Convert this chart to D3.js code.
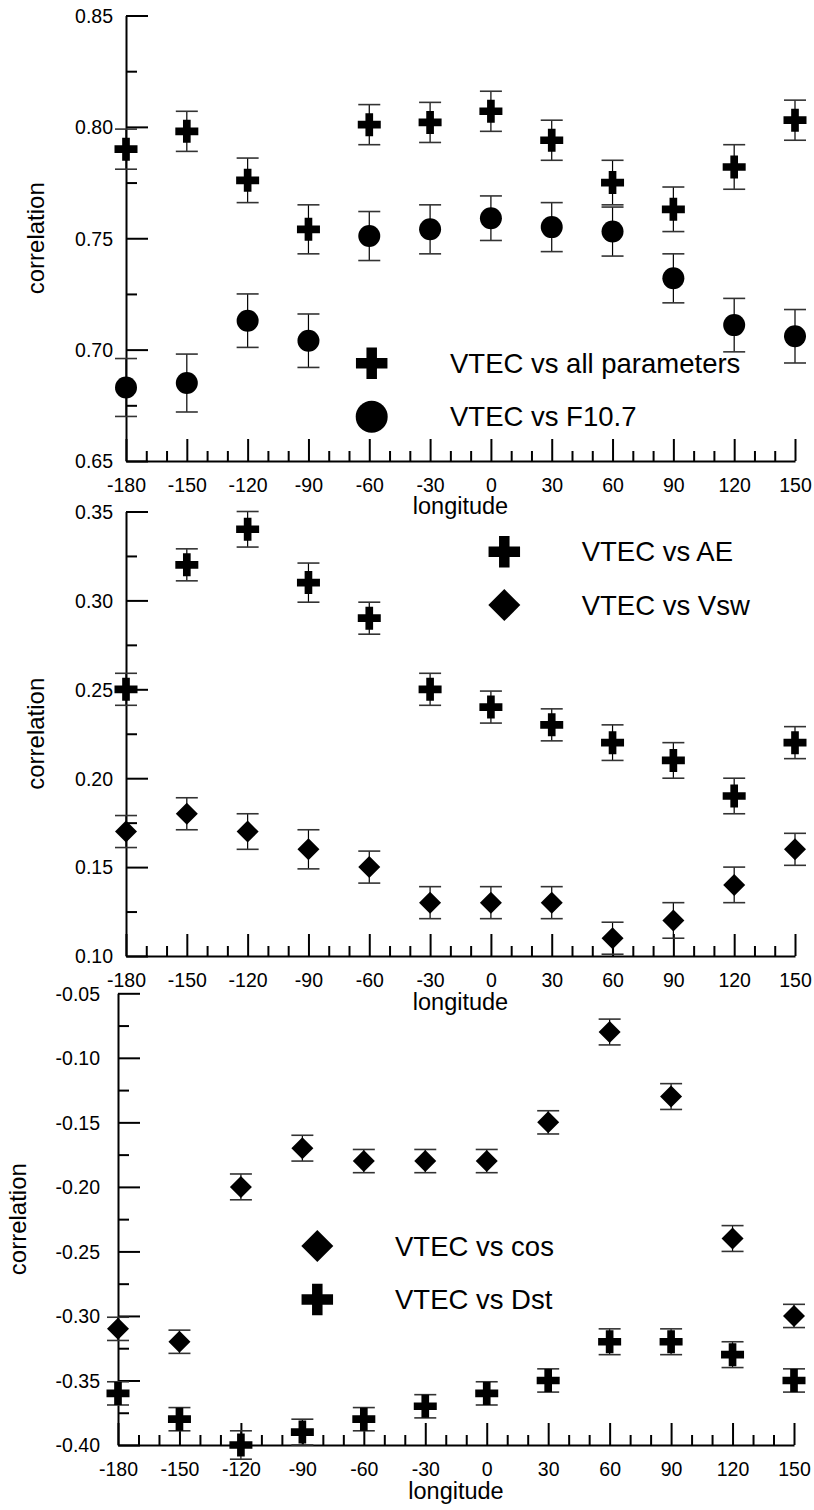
<!DOCTYPE html>
<html>
<head>
<meta charset="utf-8">
<script src="https://cdn.jsdelivr.net/npm/d3@7"></script>
<style>
  html, body { margin: 0; padding: 0; background: #fff; }
  svg { display: block; }
  text { font-family: "Liberation Sans", Arial, Helvetica, sans-serif; fill: #000; }
</style>
</head>
<body>
<svg id="chart" width="814" height="1510"></svg>
<script>
// Longitude bins (degrees)
const longitudes = [-180, -150, -120, -90, -60, -30, 0, 30, 60, 90, 120, 150];
const xTickValues = [-180, -150, -120, -90, -60, -30, 0, 30, 60, 90, 120, 150];

// Panel 1: VTEC vs all parameters / VTEC vs F10.7
const allParams    = [0.790, 0.798, 0.776, 0.754, 0.801, 0.802, 0.807, 0.794, 0.775, 0.763, 0.782, 0.803];
const allParamsErr = [0.009, 0.009, 0.010, 0.011, 0.009, 0.009, 0.009, 0.009, 0.010, 0.010, 0.010, 0.009];
const f107         = [0.683, 0.685, 0.713, 0.704, 0.751, 0.754, 0.759, 0.755, 0.753, 0.732, 0.711, 0.706];
const f107Err      = [0.013, 0.013, 0.012, 0.012, 0.011, 0.011, 0.010, 0.011, 0.011, 0.011, 0.012, 0.012];

// Panel 2: VTEC vs AE / VTEC vs Vsw
const ae     = [0.25, 0.32, 0.34, 0.31, 0.29, 0.25, 0.24, 0.23, 0.22, 0.21, 0.19, 0.22];
const aeErr  = [0.009, 0.009, 0.010, 0.011, 0.009, 0.009, 0.009, 0.009, 0.010, 0.010, 0.010, 0.009];
const vsw    = [0.17, 0.18, 0.17, 0.16, 0.15, 0.13, 0.13, 0.13, 0.11, 0.12, 0.14, 0.16];
const vswErr = [0.009, 0.009, 0.010, 0.011, 0.009, 0.009, 0.009, 0.009, 0.009, 0.010, 0.010, 0.009];

// Panel 3: VTEC vs cos / VTEC vs Dst
const cosCorr = [-0.31, -0.32, -0.20, -0.17, -0.18, -0.18, -0.18, -0.15, -0.08, -0.13, -0.24, -0.30];
const cosErr  = [0.009, 0.009, 0.010, 0.010, 0.009, 0.009, 0.009, 0.009, 0.010, 0.010, 0.010, 0.009];
const dst     = [-0.36, -0.38, -0.40, -0.39, -0.38, -0.37, -0.36, -0.35, -0.32, -0.32, -0.33, -0.35];
const dstErr  = [0.009, 0.009, 0.011, 0.010, 0.009, 0.009, 0.009, 0.009, 0.010, 0.010, 0.010, 0.009];

// Y tick values per panel
const yTicks1 = [0.65, 0.70, 0.75, 0.80, 0.85];
const yTicks2 = [0.10, 0.15, 0.20, 0.25, 0.30, 0.35];
const yTicks3 = [-0.40, -0.35, -0.30, -0.25, -0.20, -0.15, -0.10, -0.05];

// plain hyphen-minus formatting for tick labels
const fmtLon = (d) => String(d);
const fmtCorr = (d) => (d < 0 ? "-" : "") + Math.abs(d).toFixed(2);

const svg = d3.select("#chart");
svg.append("rect").attr("width", 814).attr("height", 1510).attr("fill", "#fff");

// marker shapes
const sym = {
  cross:   (s) => d3.symbol().type(d3.symbolCross).size(5 * (s / 3) * (s / 3))(),
  circle:  (s) => d3.symbol().type(d3.symbolCircle).size(Math.PI * (s / 2) * (s / 2))(),
  diamond: (s) => d3.symbol().type(d3.symbolSquare).size((s / Math.SQRT2) * (s / Math.SQRT2))()
};
const rot = { cross: 0, circle: 0, diamond: 45 };

const panels = [
  {
    x: [126, 795], y: [461, 15.5], yDomain: [0.65, 0.85], yTicks: yTicks1, yPad: 13,
    yTitleX: 44, xTitleY: 514,
    series: [
      { name: "VTEC vs all parameters", values: allParams, err: allParamsErr, shape: "cross" },
      { name: "VTEC vs F10.7", values: f107, err: f107Err, shape: "circle" }
    ],
    legend: { mx: 371.7, my: 363.3, tx: 450, gap: 53.4 }
  },
  {
    x: [126, 795], y: [956, 511.5], yDomain: [0.10, 0.35], yTicks: yTicks2, yPad: 13,
    yTitleX: 44, xTitleY: 1010,
    series: [
      { name: "VTEC vs AE", values: ae, err: aeErr, shape: "cross" },
      { name: "VTEC vs Vsw", values: vsw, err: vswErr, shape: "diamond" }
    ],
    legend: { mx: 504.3, my: 551.7, tx: 581.7, gap: 53.4 }
  },
  {
    x: [118, 794], y: [1445, 993.3], yDomain: [-0.40, -0.05], yTicks: yTicks3, yPad: 18,
    yTitleX: 26, xTitleY: 1499,
    series: [
      { name: "VTEC vs cos", values: cosCorr, err: cosErr, shape: "diamond" },
      { name: "VTEC vs Dst", values: dst, err: dstErr, shape: "cross" }
    ],
    legend: { mx: 317.3, my: 1246, tx: 395, gap: 53.4 }
  }
];

panels.forEach((p) => {
  const g = svg.append("g");
  const x = d3.scaleLinear().domain([-180, 150]).range(p.x);
  const y = d3.scaleLinear().domain(p.yDomain).range(p.y);

  // minor ticks
  const xMinor = d3.range(-170, 150, 10).filter(v => v % 30 !== 0);
  g.append("g")
    .attr("transform", `translate(0,${p.y[0]})`)
    .call(d3.axisBottom(x).tickValues(xMinor).tickSize(-10).tickSizeOuter(0).tickFormat(""))
    .call(a => a.select(".domain").remove())
    .call(a => a.selectAll("line").attr("stroke", "#000").attr("stroke-width", 2));
  const step = 0.05;
  const yMinor = d3.range(p.yDomain[0] + step / 2, p.yDomain[1], step);
  g.append("g")
    .attr("transform", `translate(${p.x[0]},0)`)
    .call(d3.axisLeft(y).tickValues(yMinor).tickSize(-11).tickSizeOuter(0).tickFormat(""))
    .call(a => a.select(".domain").remove())
    .call(a => a.selectAll("line").attr("stroke", "#000").attr("stroke-width", 2));

  // major x axis
  g.append("g")
    .attr("transform", `translate(0,${p.y[0]})`)
    .call(d3.axisBottom(x).tickValues(xTickValues).tickSize(-22).tickSizeOuter(0).tickPadding(17).tickFormat(fmtLon))
    .call(a => a.select(".domain").attr("stroke", "#000").attr("stroke-width", 2))
    .call(a => a.selectAll("line").attr("stroke", "#000").attr("stroke-width", 2))
    .call(a => a.selectAll("text").attr("font-size", 19.5).attr("font-family", null).attr("fill", "#000"));

  // major y axis
  g.append("g")
    .attr("transform", `translate(${p.x[0]},0)`)
    .call(d3.axisLeft(y).tickValues(p.yTicks).tickSize(-22).tickSizeOuter(0).tickPadding(p.yPad).tickFormat(fmtCorr))
    .call(a => a.select(".domain").attr("stroke", "#000").attr("stroke-width", 2))
    .call(a => a.selectAll("line").attr("stroke", "#000").attr("stroke-width", 2))
    .call(a => a.selectAll("text").attr("font-size", 19.5).attr("font-family", null).attr("fill", "#000").attr("dy", "0.35em"));

  // axis titles
  g.append("text")
    .attr("x", (p.x[0] + p.x[1]) / 2).attr("y", p.xTitleY)
    .attr("text-anchor", "middle").attr("font-size", 23.5)
    .text("longitude");
  g.append("text")
    .attr("transform", `translate(${p.yTitleX},${(p.y[0] + p.y[1]) / 2}) rotate(-90)`)
    .attr("text-anchor", "middle").attr("font-size", 24)
    .text("correlation");

  // error bars and markers
  p.series.forEach((s) => {
    const pts = longitudes.map((lon, i) => ({ lon, v: s.values[i], e: s.err[i] }));
    const eb = g.append("g").attr("stroke", "#000");
    eb.selectAll("line.v").data(pts).join("line")
      .attr("x1", d => x(d.lon)).attr("x2", d => x(d.lon))
      .attr("y1", d => y(d.v - d.e)).attr("y2", d => y(d.v + d.e))
      .attr("stroke-width", 1.2);
    eb.selectAll("line.lo").data(pts).join("line")
      .attr("x1", d => x(d.lon) - 11).attr("x2", d => x(d.lon) + 11)
      .attr("y1", d => y(d.v - d.e)).attr("y2", d => y(d.v - d.e))
      .attr("stroke", "#333").attr("stroke-width", 1.6);
    eb.selectAll("line.hi").data(pts).join("line")
      .attr("x1", d => x(d.lon) - 11).attr("x2", d => x(d.lon) + 11)
      .attr("y1", d => y(d.v + d.e)).attr("y2", d => y(d.v + d.e))
      .attr("stroke", "#333").attr("stroke-width", 1.6);

    const size = s.shape === "cross" ? 23 : 22;
    g.append("g").selectAll("path").data(pts).join("path")
      .attr("d", sym[s.shape](size))
      .attr("transform", d => `translate(${x(d.lon)},${y(d.v)}) rotate(${rot[s.shape]})`)
      .attr("fill", "#000");
  });

  // legend
  p.series.forEach((s, i) => {
    const my = p.legend.my + i * p.legend.gap;
    g.append("path")
      .attr("d", sym[s.shape](s.shape === "cross" ? 31.5 : 32))
      .attr("transform", `translate(${p.legend.mx},${my}) rotate(${rot[s.shape]})`)
      .attr("fill", "#000");
    g.append("text")
      .attr("x", p.legend.tx).attr("y", my).attr("dy", "0.35em")
      .attr("font-size", 27.5)
      .text(s.name);
  });
});
</script>
</body>
</html>
